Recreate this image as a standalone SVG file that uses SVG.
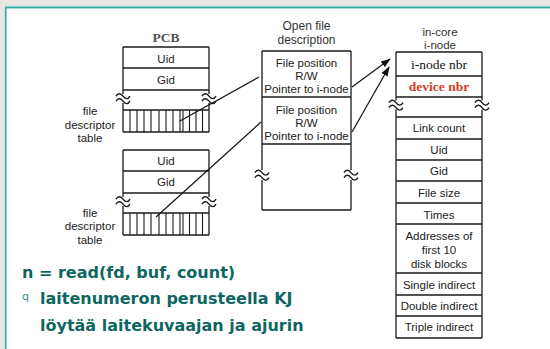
<svg xmlns="http://www.w3.org/2000/svg" xmlns:xlink="http://www.w3.org/1999/xlink" width="550" height="349" viewBox="0 0 550 349">
<style>
.box{fill:none;stroke:#1a1a1a;stroke-width:1.3}
.ln{stroke:#1a1a1a;stroke-width:1.3;fill:none}
.cell{stroke:#1a1a1a;stroke-width:1.1}
.t{font-family:"Liberation Sans",Arial,sans-serif;font-size:11.5px;fill:#222;text-anchor:middle}
.tt{font-family:"Liberation Sans",Arial,sans-serif;font-size:12px;fill:#333;text-anchor:middle}
.s{font-family:"Liberation Serif","Times New Roman",serif;font-size:13.5px;fill:#111;text-anchor:middle}
.big{font-family:"DejaVu Sans",Verdana,sans-serif;font-size:16px;font-weight:bold;fill:#0f6660}
</style>
<defs>
<path id="brk" d="M-7,-2.3 C-5,-6 -2,-5 0,-2.3 S5,1.4 7,-2.3 M-7,2.7 C-5,-1 -2,0 0,2.7 S5,6.4 7,2.7" fill="none" stroke="#1a1a1a" stroke-width="1.4"/>
<marker id="ah" markerWidth="10" markerHeight="8" refX="9" refY="4" orient="auto" markerUnits="userSpaceOnUse">
<path d="M0,0.5 L10,4 L0,7.5 Z" fill="#111"/>
</marker>
</defs>
<rect x="0" y="0" width="550" height="349" fill="#e8e7e3"/>
<line x1="5" y1="6.3" x2="550" y2="6.3" stroke="#9bd6cf" stroke-width="1"/>
<rect x="5.7" y="7.6" width="600" height="400" fill="#ffffff" stroke="#27aca3" stroke-width="1.6"/>

<g id="pcb1">
<text x="166" y="42" class="s" style="font-weight:bold;fill:#555">PCB</text>
<line class="ln" x1="123" y1="47" x2="209" y2="47"/>
<line class="ln" x1="123" y1="68" x2="209" y2="68"/>
<line class="ln" x1="123" y1="90" x2="209" y2="90"/>
<line class="ln" x1="123" y1="47" x2="123" y2="94"/>
<line class="ln" x1="209" y1="47" x2="209" y2="94"/>
<line class="ln" x1="123" y1="103" x2="123" y2="132"/>
<line class="ln" x1="209" y1="103" x2="209" y2="132"/>
<line class="ln" x1="123" y1="110" x2="209" y2="110"/>
<line class="ln" x1="123" y1="132" x2="209" y2="132"/>
<path class="cell" d="M130,110V132M137,110V132M144,110V132M151,110V132M159,110V132M166,110V132M173,110V132M180,110V132M183,110V132M189.5,110V132M196,110V132M202.5,110V132"/>
<use xlink:href="#brk" x="123" y="98.5"/>
<use xlink:href="#brk" x="209" y="98.5"/>
<text x="166" y="62.5" class="t">Uid</text>
<text x="166" y="84" class="t">Gid</text>
<text x="90" y="115" class="t">file</text>
<text x="90" y="128.5" class="t">descriptor</text>
<text x="90" y="142" class="t">table</text>
</g>

<g id="pcb2">
<line class="ln" x1="123" y1="150" x2="209" y2="150"/>
<line class="ln" x1="123" y1="171" x2="209" y2="171"/>
<line class="ln" x1="123" y1="193" x2="209" y2="193"/>
<line class="ln" x1="123" y1="150" x2="123" y2="197"/>
<line class="ln" x1="209" y1="150" x2="209" y2="197"/>
<line class="ln" x1="123" y1="206" x2="123" y2="235"/>
<line class="ln" x1="209" y1="206" x2="209" y2="235"/>
<line class="ln" x1="123" y1="213" x2="209" y2="213"/>
<line class="ln" x1="123" y1="235" x2="209" y2="235"/>
<path class="cell" d="M130,213V235M137,213V235M144,213V235M151,213V235M159,213V235M166,213V235M173,213V235M180,213V235M183,213V235M189.5,213V235M196,213V235M202.5,213V235"/>
<use xlink:href="#brk" x="123" y="201.5"/>
<use xlink:href="#brk" x="209" y="201.5"/>
<text x="166" y="164.5" class="t">Uid</text>
<text x="166" y="186" class="t">Gid</text>
<text x="90" y="216.5" class="t">file</text>
<text x="90" y="230" class="t">descriptor</text>
<text x="90" y="243.5" class="t">table</text>
</g>

<g id="open-file">
<text x="306.5" y="30" class="tt">Open file</text>
<text x="306.5" y="44" class="tt">description</text>
<line class="ln" x1="262" y1="51" x2="351" y2="51"/>
<line class="ln" x1="262" y1="97" x2="351" y2="97"/>
<line class="ln" x1="262" y1="144" x2="351" y2="144"/>
<line class="ln" x1="262" y1="210" x2="351" y2="210"/>
<line class="ln" x1="262" y1="51" x2="262" y2="170"/>
<line class="ln" x1="351" y1="51" x2="351" y2="170"/>
<line class="ln" x1="262" y1="180" x2="262" y2="210"/>
<line class="ln" x1="351" y1="180" x2="351" y2="210"/>
<use xlink:href="#brk" x="262" y="175"/>
<use xlink:href="#brk" x="351" y="175"/>
<text x="306.5" y="66.5" class="t">File position</text>
<text x="306.5" y="79.5" class="t">R/W</text>
<text x="306.5" y="93" class="t">Pointer to i-node</text>
<text x="306.5" y="113.5" class="t">File position</text>
<text x="306.5" y="126.5" class="t">R/W</text>
<text x="306.5" y="140" class="t">Pointer to i-node</text>
</g>

<g id="inode">
<text x="440" y="35.5" class="tt" style="font-size:11.5px">in-core</text>
<text x="440" y="48.5" class="tt" style="font-size:11.5px">i-node</text>
<path class="ln" d="M396,52H482M396,76H482M396,97H482M396,117H482M396,139H482M396,160H482M396,181H482M396,203H482M396,224H482M396,273H482M396,295H482M396,316H482M396,338H482"/>
<line class="ln" x1="396" y1="52" x2="396" y2="100.5"/>
<line class="ln" x1="482" y1="52" x2="482" y2="100.5"/>
<line class="ln" x1="396" y1="109.5" x2="396" y2="338"/>
<line class="ln" x1="482" y1="109.5" x2="482" y2="338"/>
<use xlink:href="#brk" x="396" y="105"/>
<use xlink:href="#brk" x="482" y="105"/>
<text x="439" y="68.5" class="s">i-node nbr</text>
<text x="439" y="91" class="s" style="font-weight:bold;fill:#d2401a">device nbr</text>
<text x="439" y="132" class="t">Link count</text>
<text x="439" y="154" class="t">Uid</text>
<text x="439" y="175" class="t">Gid</text>
<text x="439" y="196.5" class="t">File size</text>
<text x="439" y="218.5" class="t">Times</text>
<text x="439" y="240" class="t">Addresses of</text>
<text x="439" y="254" class="t">first 10</text>
<text x="439" y="267.5" class="t">disk blocks</text>
<text x="439" y="288.5" class="t">Single indirect</text>
<text x="439" y="310" class="t">Double indirect</text>
<text x="439" y="331" class="t">Triple indirect</text>
</g>

<g id="connectors">
<line class="ln" x1="180" y1="121" x2="259" y2="77"/>
<line class="ln" x1="156" y1="217" x2="261" y2="122"/>
<line class="ln" x1="352" y1="87" x2="390" y2="59" marker-end="url(#ah)"/>
<line class="ln" x1="352" y1="132" x2="389" y2="67" marker-end="url(#ah)"/>
</g>

<g id="notes">
<text x="22" y="278" class="big">n = read(fd, buf, count)</text>
<text x="22" y="300" style="font-family:'DejaVu Sans',sans-serif;font-size:11px;fill:#3f918b">q</text>
<text x="40" y="304" class="big">laitenumeron perusteella KJ</text>
<text x="40" y="331" class="big">löytää laitekuvaajan ja ajurin</text>
</g>
</svg>
